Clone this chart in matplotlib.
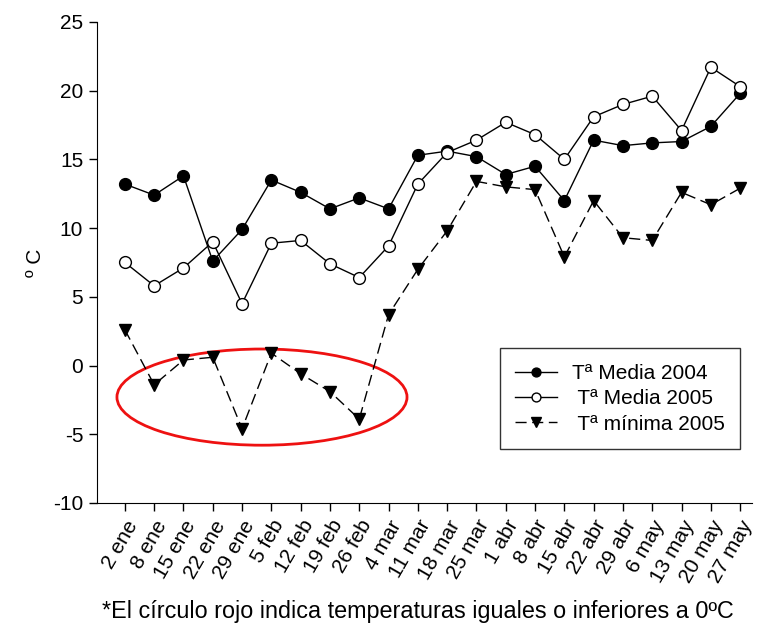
import matplotlib
matplotlib.use("Agg")
from matplotlib import pyplot as plt
from matplotlib.patches import Ellipse

fechas = ["2 ene", "8 ene", "15 ene", "22 ene", "29 ene", "5 feb", "12 feb",
          "19 feb", "26 feb", "4 mar", "11 mar", "18 mar", "25 mar", "1 abr",
          "8 abr", "15 abr", "22 abr", "29 abr", "6 may", "13 may", "20 may",
          "27 may"]
media_2004 = [13.2, 12.4, 13.8, 7.6, 9.9, 13.5, 12.6, 11.4, 12.2, 11.4, 15.3,
              15.6, 15.2, 13.9, 14.5, 12.0, 16.4, 16.0, 16.2, 16.3, 17.4, 19.8]
media_2005 = [7.5, 5.8, 7.1, 9.0, 4.5, 8.9, 9.1, 7.4, 6.4, 8.7, 13.2,
              15.5, 16.4, 17.7, 16.8, 15.0, 18.1, 19.0, 19.6, 17.1, 21.7, 20.3]
minima_2005 = [2.6, -1.4, 0.4, 0.6, -4.6, 0.9, -0.6, -1.9, -3.9, 3.7, 7.0,
               9.8, 13.4, 13.0, 12.8, 7.9, 12.0, 9.3, 9.1, 12.6, 11.7, 12.9]

plt.rcParams["font.family"] = ["Liberation Sans", "DejaVu Sans"]
plt.rcParams["axes.unicode_minus"] = False

fig = plt.figure(figsize=(7.61, 6.35), dpi=100)
ax = fig.add_axes([0.1275, 0.208, 0.8605, 0.7574])

x = list(range(len(fechas)))
ax.plot(x, media_2004, color="black", lw=1, marker="o", ms=8.5,
        mfc="black", mec="black", label="Tª Media 2004")
ax.plot(x, media_2005, color="black", lw=1, marker="o", ms=8.5,
        mfc="white", mec="black", label=" Tª Media 2005")
ax.plot(x, minima_2005, color="black", lw=1, ls=(0, (8, 4)), marker="v",
        ms=9, mfc="black", mec="black", label=" Tª mínima 2005")

ax.add_patch(Ellipse((4.68, -2.3), 9.9, 7.0, fill=False, ec="#ee1111", lw=2))

ax.set_xlim(-0.95, 21.4)
ax.set_ylim(-10, 25)
ax.set_yticks(range(-10, 26, 5))
ax.set_xticks(x)
ax.set_xticklabels(fechas, rotation=60, ha="right", rotation_mode="anchor")
ax.tick_params(labelsize=15, direction="out", length=6, width=1, pad=4)
for s in ["top", "right"]:
    ax.spines[s].set_visible(False)
ax.set_ylabel("º C", fontsize=15, labelpad=6)

leg = ax.legend(loc="lower right", bbox_to_anchor=(0.998, 0.09), fontsize=15,
                frameon=True, fancybox=False, edgecolor="black",
                handlelength=2.0, markerscale=0.75, borderpad=0.75,
                labelspacing=0.3, handletextpad=0.7)
leg.get_frame().set_linewidth(1)

fig.text(0.549, 0.027, "*El círculo rojo indica temperaturas iguales o inferiores a 0ºC",
         ha="center", fontsize=16.8)

fig.savefig("out.png", dpi=100)
